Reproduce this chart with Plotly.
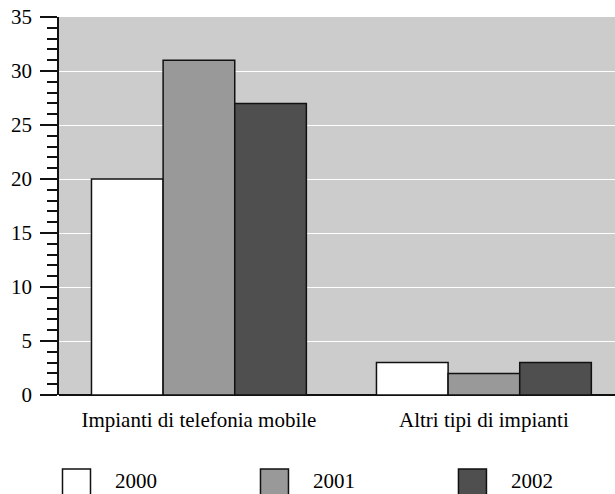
import plotly.graph_objects as go

categories = ["Impianti di telefonia mobile", "Altri tipi di impianti"]
years = ["2000", "2001", "2002"]
values_2000 = [20, 3]
values_2001 = [31, 2]
values_2002 = [27, 3]
colors = ["#ffffff", "#999999", "#4f4f4f"]
y_ticks = [0, 5, 10, 15, 20, 25, 30, 35]

series = [values_2000, values_2001, values_2002]
FONT = "Liberation Serif"
FS = 21

fig = go.Figure()
for name, vals, col in zip(years, series, colors):
    fig.add_trace(go.Bar(
        x=categories, y=vals, name=name,
        marker=dict(color=col, line=dict(color="#111111", width=1.5)),
        showlegend=False,
    ))

# custom legend (large square swatches) on an overlay axis
idx = list(range(len(years)))
fig.add_trace(go.Scatter(
    x=idx, y=[0] * len(years), mode="markers",
    xaxis="x2", yaxis="y2",
    marker=dict(symbol="square", size=28, color=colors,
                line=dict(color="#111111", width=1.5)),
    showlegend=False, hoverinfo="skip", cliponaxis=False,
))
fig.add_trace(go.Scatter(
    x=[i + 0.195 for i in idx], y=[0] * len(years), mode="text",
    xaxis="x2", yaxis="y2",
    text=years, textposition="middle right",
    textfont=dict(family=FONT, size=FS, color="#000000"),
    showlegend=False, hoverinfo="skip", cliponaxis=False,
))

fig.update_layout(
    width=615, height=494,
    margin=dict(l=59, r=0, t=17, b=0, pad=0, autoexpand=False),
    paper_bgcolor="#ffffff", plot_bgcolor="#ffffff",
    barmode="group", bargap=0.246, bargroupgap=0,
    font=dict(family=FONT, size=FS, color="#000000"),
    xaxis=dict(
        domain=[0, 1], anchor="y", automargin=False,
        range=[-0.491, 1.46], showgrid=False, zeroline=False,
        showline=False, ticks="", tickfont=dict(size=FS),
        ticklabelstandoff=10,
    ),
    yaxis=dict(
        domain=[0.20755, 1], anchor="x", automargin=False,
        range=[0, 35], tickvals=y_ticks, showgrid=True, gridcolor="#ffffff",
        gridwidth=1, zeroline=True, zerolinecolor="#111111", zerolinewidth=1.5,
        showline=True, linecolor="#111111", linewidth=1.5,
        ticks="outside", ticklen=17, tickwidth=1.5, tickcolor="#111111",
        minor=dict(dtick=1, ticks="outside", ticklen=10, tickwidth=1.5,
                   tickcolor="#111111", showgrid=False),
        tickfont=dict(size=FS), ticklabelstandoff=4,
    ),
    xaxis2=dict(domain=[0, 1], anchor="y2", range=[-0.0884, 2.72],
                visible=False, automargin=False),
    yaxis2=dict(domain=[0, 0.0461], anchor="x2", range=[-1, 1], visible=False,
                automargin=False),
    shapes=[dict(type="rect", xref="x domain", yref="y domain",
                 x0=0, x1=1, y0=0, y1=1, fillcolor="#cccccc",
                 line=dict(width=0), layer="below")],
)
fig.write_html("out.html", config={"displayModeBar": False},
               post_script="document.body.style.margin='0';document.body.style.overflow='hidden';")
